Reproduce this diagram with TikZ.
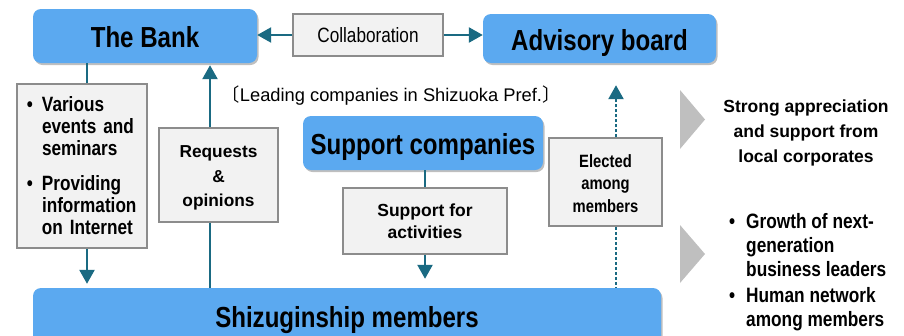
\documentclass[tikz,border=0pt]{standalone}
\usepackage{fontspec}
\setmainfont{Liberation Sans}
\newfontfamily\narrow{Liberation Sans}[FakeStretch=0.83]
\newfontfamily\cjk{Noto Sans CJK JP}
\usetikzlibrary{arrows.meta, shadows}
\definecolor{bankblue}{HTML}{5BA9F0}
\definecolor{linkteal}{HTML}{1A6A82}
\definecolor{boxgray}{HTML}{F2F2F2}
\definecolor{edgegray}{HTML}{8C8C8C}
\definecolor{chevgray}{HTML}{BFBFBF}
\newcommand{\listbul}{\makebox[15pt][l]{\textbullet}}

\begin{document}
\begin{tikzpicture}[x=1pt, y=-1pt, >={Triangle[length=14pt, width=15pt]},
  bluebox/.style={fill=bankblue, rounded corners=8pt, inner sep=0pt,
    text height=23pt, text depth=0pt,
    font=\narrow\fontsize{29}{32}\selectfont\bfseries,
    drop shadow={shadow xshift=1.5pt, shadow yshift=-2pt, opacity=0.25, fill=black}},
  graybox/.style={fill=boxgray, draw=edgegray, line width=1.5pt, inner sep=0pt, align=center},
  link/.style={linkteal, line width=2.5pt}]

\useasboundingbox (0,0) rectangle (904,335);

% Blue boxes
\node[bluebox, minimum width=224pt, minimum height=54pt] (bank) at (145,36) {The Bank};
\node[bluebox, minimum width=233pt, minimum height=49pt] (advisory) at (599.5,38.5) {Advisory board};
\node[bluebox, minimum width=240pt, minimum height=54pt] (support) at (423,143) {Support companies};
\node[bluebox, minimum width=628pt, minimum height=56pt] (members) at (347,316) {Shizuginship members};

% Gray boxes
\node[graybox, minimum width=150pt, minimum height=42pt, font=\narrow\fontsize{20.7}{22}\selectfont] (collab) at (368,35) {Collaboration};
\node[graybox, minimum width=130pt, minimum height=164pt, text width=110pt, align=left,
  font=\narrow\fontsize{20.7}{22}\selectfont\bfseries] (events) at (82,166)
  {\listbul Various\\\hspace*{15pt}events and\\\hspace*{15pt}seminars\\[13pt]
   \listbul Providing\\\hspace*{15pt}information\\\hspace*{15pt}on Internet};
\node[graybox, minimum width=119pt, minimum height=94pt, text height=66pt,
  font=\fontsize{17.3}{24.2}\selectfont\bfseries] (requests) at (218.5,175) {Requests\\\&\\opinions};
\node[graybox, minimum width=164pt, minimum height=66pt, font=\fontsize{17.5}{22}\selectfont\bfseries] (activities) at (425,221) {Support for\\activities};
\node[graybox, minimum width=113pt, minimum height=88pt, text height=61pt,
  font=\narrow\fontsize{17.8}{22.5}\selectfont\bfseries] (elected) at (605.5,182) {Elected\\among\\members};

% Texts
\node[text height=13pt, text depth=4pt, font=\fontsize{18.3}{20}\selectfont] (leading) at (391,97) {{\cjk 〔}Leading companies in Shizuoka Pref.{\cjk 〕}};
\node[font=\fontsize{17.5}{25}\selectfont\bfseries, align=center, inner sep=0pt] (appreciation) at (806,133) {Strong appreciation\\and support from\\local corporates};
\node[font=\narrow\fontsize{20.8}{24.25}\selectfont\bfseries, align=left, anchor=west, inner sep=0pt] (growth) at (729,272)
  {\makebox[17pt][l]{\textbullet}Growth of next-\\\hspace*{17pt}generation\\\hspace*{17pt}business leaders\\[1.5pt]
   \makebox[17pt][l]{\textbullet}Human network\\\hspace*{17pt}among members};

% Chevrons
\fill[chevgray] (680,90) -- (705,119.5) -- (680,149) -- cycle;
\fill[chevgray] (680,225) -- (705,254) -- (680,283) -- cycle;

% Connectors
\draw[link, ->] (collab.west) -- (collab.west -| bank.east);
\draw[link, ->] (collab.east) -- (collab.east -| advisory.west);
\draw[link] ([xshift=5pt]events.north) -- ([xshift=5pt]events.north |- bank.south);
\draw[link, ->, shorten >=4pt] ([xshift=5pt]events.south) -- ([xshift=5pt]events.south |- members.north);
\draw[link] ([xshift=-8.5pt]requests.south) -- ([xshift=-8.5pt]requests.south |- members.north);
\draw[link, ->, shorten >=2pt] ([xshift=-8.5pt]requests.north) -- ([xshift=-8.5pt]requests.north |- bank.south);
\draw[link] (activities.north |- support.south) -- (activities.north);
\draw[link, ->, shorten >=9pt] (activities.south) -- (activities.south |- members.north);
\draw[link, dash pattern=on 3pt off 2pt] ([xshift=10.5pt]elected.south) -- ([xshift=10.5pt]elected.south |- members.north);
\draw[link, dash pattern=on 3pt off 2pt, ->, shorten >=22pt] ([xshift=10.5pt]elected.north) -- ([xshift=10.5pt]elected.north |- advisory.south);

\end{tikzpicture}
\end{document}
